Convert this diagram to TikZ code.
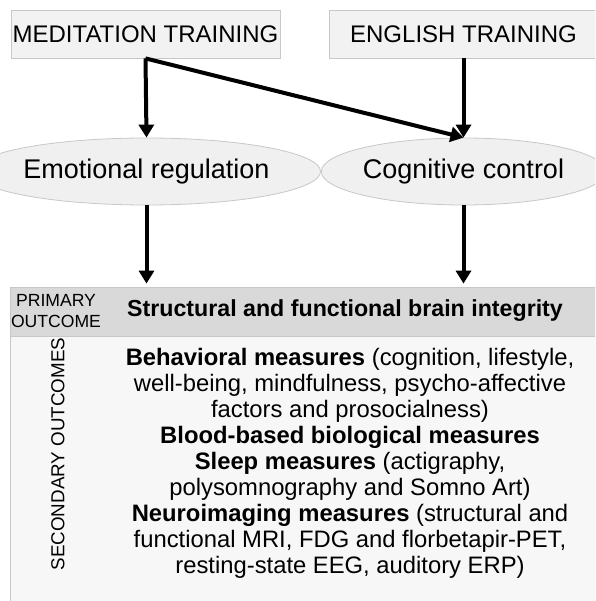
\documentclass[tikz,border=0pt]{standalone}
\usepackage{fontspec}
\setmainfont{Liberation Sans}
\usetikzlibrary{
    arrows.meta,
    positioning,
    shapes.geometric
}
\definecolor{ink}{RGB}{0,0,0}
\definecolor{boxline}{RGB}{200,200,200}
\definecolor{boxfill}{RGB}{242,242,242}
\definecolor{ovalfill}{RGB}{240,240,240}
\definecolor{primfill}{RGB}{217,217,217}
\definecolor{secfill}{RGB}{247,247,247}
\tikzset{
    training/.style={
        rectangle,
        draw=boxline,
        line width=0.8pt,
        fill=boxfill,
        text=ink,
        minimum width=269pt,
        minimum height=48pt,
        inner sep=0pt,
        font=\fontsize{24}{27}\selectfont
    },
    mechanism/.style={
        ellipse,
        draw=boxline,
        line width=0.8pt,
        fill=ovalfill,
        text=ink,
        minimum width=273pt,
        minimum height=67pt,
        inner sep=0pt,
        font=\fontsize{27}{30}\selectfont
    },
    outcomebox/.style={
        rectangle,
        draw=boxline,
        line width=0.8pt,
        minimum width=590pt,
        inner sep=0pt
    },
    smallcap/.style={
        font=\fontsize{17.6}{20.5}\selectfont,
        text=ink,
        align=center,
        inner sep=0pt
    },
    measures/.style={
        font=\fontsize{23.8}{26}\selectfont,
        text=ink,
        align=center,
        inner sep=0pt
    },
    flow/.style={
        -{Triangle[length=13pt,width=15pt]},
        draw=ink,
        line width=4pt
    }
}

\begin{document}
\begin{tikzpicture}[x=1pt, y=-1pt]

\useasboundingbox (0,0) rectangle (595,601);
\clip (0,0) rectangle (595,601);
\fill[white] (0,0) rectangle (595,601);

% === Training arms ===
\node[training] (med) at (145.5, 34) {MEDITATION TRAINING};
\node[training] (eng) at (463.5, 34) {ENGLISH TRAINING};

% === Targeted mechanisms ===
\node[mechanism] (emo) at (146.5, 171.5) {Emotional regulation};
\node[mechanism] (cog) at (463.5, 171.5) {Cognitive control};

\draw[flow] (med.south) -- (emo.north);
\draw[flow] (med.south) -- (cog.north);
\draw[flow] (eng.south) -- (cog.north);

% === Outcomes ===
\node[outcomebox, fill=primfill, minimum height=49pt] (prim) at (305, 311.5) {};
\node[outcomebox, fill=secfill, minimum height=269pt] (sec) at (305, 470.5) {};

\draw[flow, shorten >=3pt] (emo.south) -- (emo.south |- prim.north);
\draw[flow, shorten >=3pt] (cog.south) -- (cog.south |- prim.north);

\node[smallcap] (primlab) at (56, 311) {PRIMARY\\OUTCOME};
\node[measures, font=\fontsize{23.2}{26}\selectfont\bfseries] (primtxt) at (345, 311)
    {Structural and functional brain integrity};

\node[smallcap, font=\fontsize{18.8}{22}\selectfont, rotate=90] (seclab) at (58, 454)
    {SECONDARY OUTCOMES};
\node[measures] (sectxt) at (350, 463) {%
    \textbf{Behavioral measures} (cognition, lifestyle,\\
    well-being, mindfulness, psycho-affective\\
    factors and prosocialness)\\
    \textbf{Blood-based biological measures}\\
    \textbf{Sleep measures} (actigraphy,\\
    polysomnography and Somno Art)\\
    \textbf{Neuroimaging measures} (structural and\\
    functional MRI, FDG and florbetapir-PET,\\
    resting-state EEG, auditory ERP)};

\end{tikzpicture}
\end{document}
